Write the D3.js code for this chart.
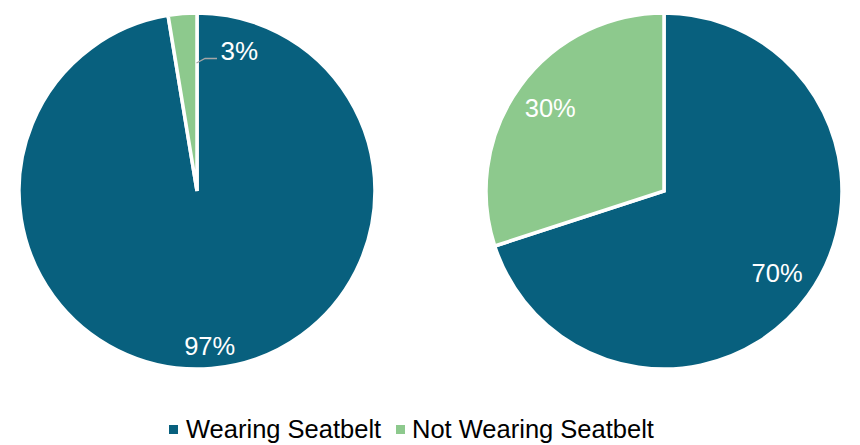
<!DOCTYPE html>
<html><head><meta charset="utf-8">
<script src="https://cdn.jsdelivr.net/npm/d3@7"></script>
<style>html,body{margin:0;padding:0;background:#fff;}svg{display:block;font-family:"Liberation Sans",Arial,sans-serif;}</style>
</head><body>
<svg id="c" width="860" height="445"></svg>
<script>
const categories = ["Wearing Seatbelt", "Not Wearing Seatbelt"];
const leftValues = [97.4, 2.6];
const rightValues = [70, 30];
const labels = ["97%", "3%", "70%", "30%"];
const colors = ["#08607e", "#8dc98d"];

const svg = d3.select("#c");
const R = 178;
const pie = d3.pie().sort(null).value(d => d);
const arc = d3.arc().innerRadius(0).outerRadius(R);
const color = d3.scaleOrdinal().domain(categories).range(colors);

function drawPie(cx, cy, values, lbls, labelCfg) {
  const g = svg.append("g").attr("transform", `translate(${cx},${cy})`);
  const arcs = pie(values);
  g.selectAll("path").data(arcs).enter().append("path")
    .attr("d", arc)
    .attr("fill", (d, i) => color(categories[i]))
    .attr("stroke", "#fff").attr("stroke-width", 3.5).attr("stroke-linejoin", "miter");
  arcs.forEach((a, i) => {
    const cfg = labelCfg[i];
    const mid = (a.startAngle + a.endAngle) / 2;
    if (cfg.outside) {
      g.append("polyline")
        .attr("points", [[-0.5, -128], [8, -132.5], [20, -132.5]].map(p => p.join(",")).join(" "))
        .attr("fill", "none").attr("stroke", "#a6a6a6").attr("stroke-width", 1.3);
      g.append("text").attr("x", 23.5).attr("y", -131)
        .attr("font-size", 26).attr("fill", "#fff")
        .text(lbls[i]);
    } else {
      const r = R * cfg.f;
      g.append("text")
        .attr("x", Math.sin(mid) * r).attr("y", -Math.cos(mid) * r)
        .attr("text-anchor", "middle").attr("dominant-baseline", "central")
        .attr("font-size", 25.5).attr("fill", "#fff")
        .text(lbls[i]);
    }
  });
}

drawPie(197, 191, leftValues, [labels[0], labels[1]], [{f: 0.875}, {outside: true}]);
drawPie(664, 191, rightValues, [labels[2], labels[3]], [{f: 0.785}, {f: 0.79}]);

// legend
const lg = svg.append("g");
const items = [{x: 169, tx: 186}, {x: 396, tx: 412}];
categories.forEach((c, i) => {
  lg.append("rect").attr("x", items[i].x).attr("y", 425).attr("width", 9).attr("height", 9).attr("fill", color(c));
  lg.append("text").attr("x", items[i].tx).attr("y", 438).attr("font-size", 25.5).attr("fill", "#000").text(c);
});
</script>
</body></html>
